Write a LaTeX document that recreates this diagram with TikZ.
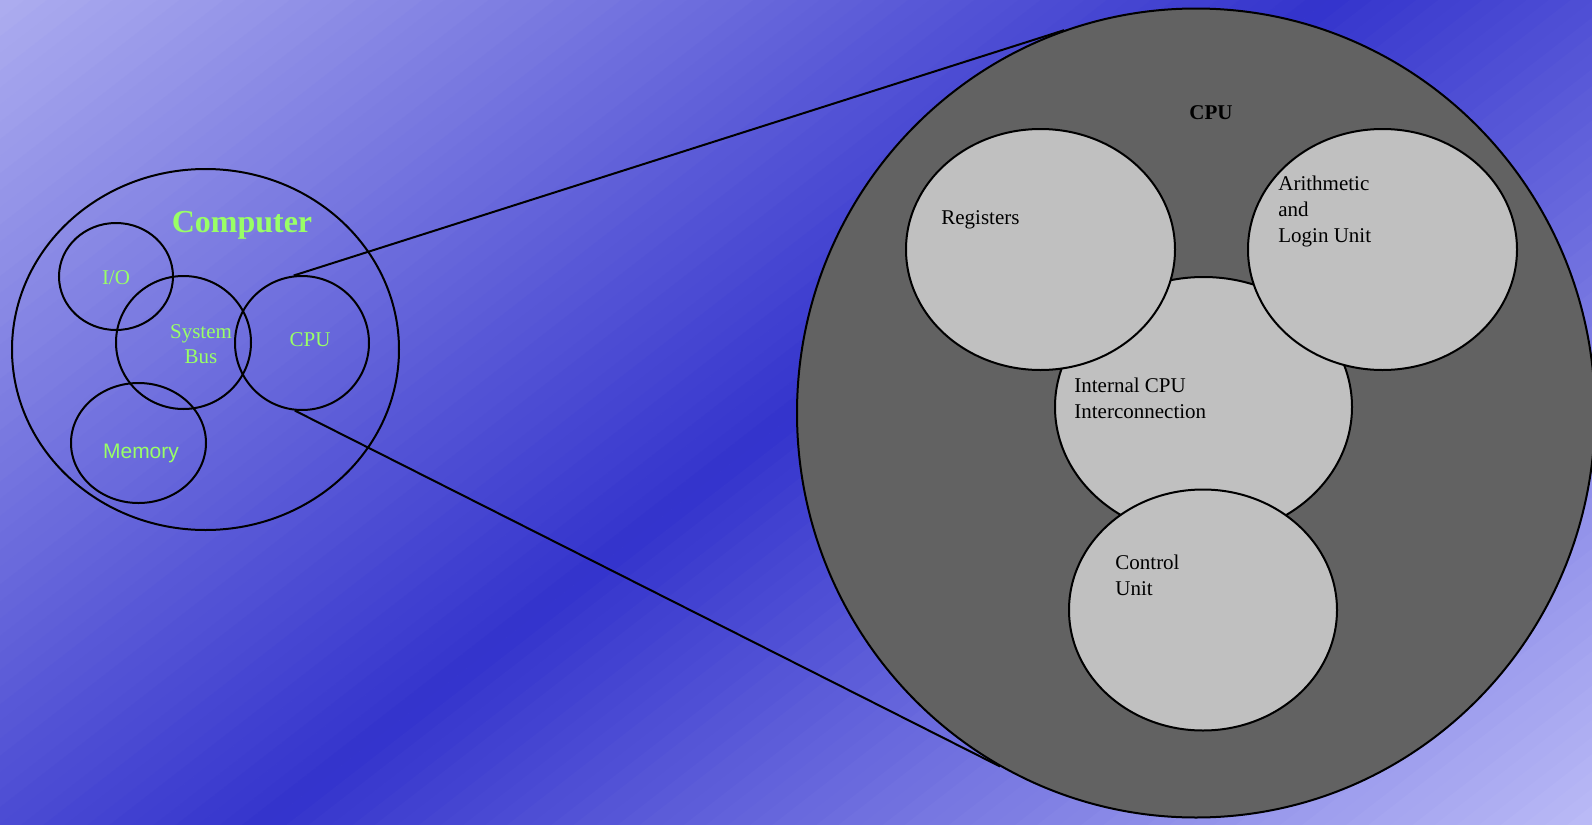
\documentclass[tikz,border=0pt]{standalone}
\usepackage{fontspec}
\setmainfont{Liberation Serif}
\newfontfamily\arialf{Liberation Sans}
\usetikzlibrary{shapes.geometric}
\definecolor{bgA}{RGB}{172,172,239}
\definecolor{bgB}{RGB}{186,186,246}
\definecolor{bgD}{RGB}{51,51,204}
\definecolor{lgreen}{RGB}{153,255,102}
\definecolor{unitgray}{RGB}{192,192,192}
\definecolor{checkgray}{RGB}{98,98,98}
\tikzset{
  ring/.style={ellipse, draw=black, line width=1pt, inner sep=0pt},
  unit/.style={ring, fill=unitgray},
  gtext/.style={text=lgreen, inner sep=0pt, font=\fontsize{10.5}{12.5}\selectfont},
  btext/.style={text=black, inner sep=0pt, font=\fontsize{10.5}{13}\selectfont, anchor=base west},
  conn/.style={draw=black, line width=1pt},
}
\begin{document}
\begin{tikzpicture}[x=0.5pt,y=-0.5pt]
\useasboundingbox (0,0) rectangle (1592,825);
% background gradient
\begin{scope}
\clip (0,0) rectangle (1592,825);
\begin{scope}[shift={(796,412.5)}, rotate=-52.2]
\foreach \i in {0,...,119}{
  \pgfmathsetmacro{\ua}{-812+\i*13.5333}
  \pgfmathsetmacro{\ub}{\ua+14.2}
  \pgfmathsetmacro{\tt}{(\i+0.5)/120}
  \pgfmathtruncatemacro{\pp}{\tt<0.5 ? \tt*200 : (1-\tt)*200}
  \pgfmathtruncatemacro{\sd}{\tt<0.5 ? 0 : 1}
  \ifnum\sd=0
    \fill[bgD!\pp!bgA] (\ua,-1200) rectangle (\ub,1200);
  \else
    \fill[bgD!\pp!bgB] (\ua,-1200) rectangle (\ub,1200);
  \fi
}
\fill[bgA] (-1000,-1200) rectangle (-811,1200);
\fill[bgB] (811,-1200) rectangle (1000,1200);
\end{scope}
\end{scope}

% left diagram
\node[ring, minimum width=193.5pt, minimum height=180.5pt] (comp) at (205.5,349.5) {};
\node[ring, minimum width=57pt, minimum height=53.5pt] (io) at (116,276.5) {};
\node[ring, minimum width=67.5pt, minimum height=66.5pt] (bus) at (183.5,342.5) {};
\node[ring, minimum width=67pt, minimum height=67pt] (cpu) at (302,343) {};
\node[ring, minimum width=67.5pt, minimum height=60pt] (mem) at (138.5,443) {};

\node[gtext, anchor=base, font=\fontsize{16}{19}\selectfont\bfseries] (tcomp) at (242,232) {Computer};
\node[gtext, anchor=base] (tio) at (116,284) {I/O};
\node[gtext, anchor=base] (tbus) at (201,338) {\vtop{\halign{\hfil#\hfil\cr System\cr Bus\cr}}};
\node[gtext, anchor=base] (tcpu) at (310,346) {CPU};
\node[gtext, anchor=base, font=\arialf\fontsize{10.5}{12.5}\selectfont] (tmem) at (141,458) {Memory};

% right diagram
\node[ring, fill=checkgray, minimum width=399pt, minimum height=404.5pt] (bigcpu) at (1196,413) {};
\node[unit, minimum width=148.5pt, minimum height=130pt] (icpu) at (1203.5,407) {};
\node[unit, minimum width=134.5pt, minimum height=120.5pt] (reg) at (1040.5,249.5) {};
\node[unit, minimum width=134.5pt, minimum height=120.5pt] (alu) at (1382.5,249.5) {};
\node[unit, minimum width=134pt, minimum height=120.5pt] (cu) at (1203,610) {};

\node[btext, anchor=base, font=\fontsize{10.5}{13}\selectfont\bfseries] (tbig) at (1211,119) {CPU};
\node[btext] (treg) at (941,224.5) {Registers};
\node[btext] (talu) at (1278,190) {\vtop{\hbox{Arithmetic}\hbox{and}\hbox{Login Unit}}};
\node[btext] (ticpu) at (1074,392) {\vtop{\hbox{Internal CPU}\hbox{Interconnection}}};
\node[btext] (tcu) at (1115,569) {\vtop{\hbox{Control}\hbox{Unit}}};

% connectors
\draw[conn] (cpu.97.8) -- (bigcpu.109.4);
\draw[conn] (cpu.264) -- (bigcpu.241.8);
\end{tikzpicture}
\end{document}
